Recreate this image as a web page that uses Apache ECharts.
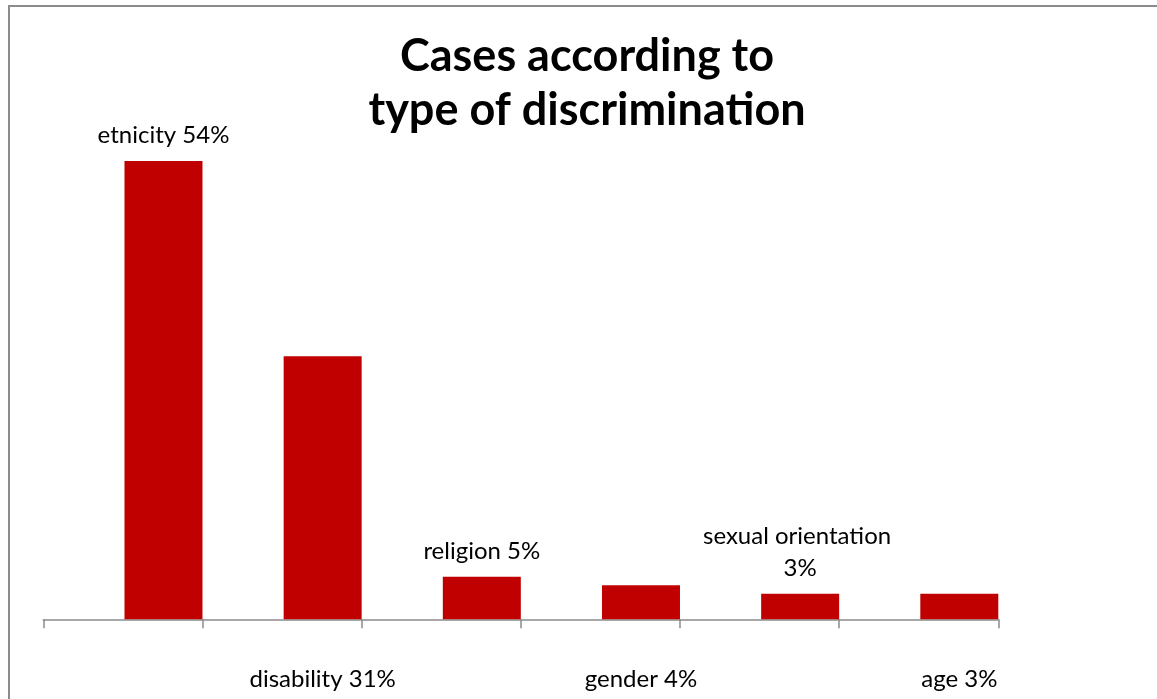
<!DOCTYPE html>
<html>
<head>
<meta charset="utf-8">
<script src="https://cdn.jsdelivr.net/npm/echarts@6/dist/echarts.min.js"></script>
<style>
  html, body { margin: 0; padding: 0; background: #ffffff; overflow: hidden; }
  #chart { position: absolute; left: 0; top: 0; width: 1157px; height: 699px; }
  #frame { position: absolute; left: 8px; top: 5px; width: 1400px; height: 900px;
           border: 2px solid #8c8c8c; pointer-events: none; box-sizing: border-box; }
</style>
</head>
<body>
<div id="chart"></div>
<div id="frame"></div>
<script>
const titleText = 'Cases according to\ntype of discrimination';
const categories = ['etnicity', 'disability', 'religion', 'gender', 'sexual orientation', 'age'];
const shares = [54, 31, 5, 4, 3, 3];
const yMax = 60;

const FONT = 'Lato, "Open Sans", "Noto Sans", sans-serif';
const chart = echarts.init(document.getElementById('chart'), null, { renderer: 'canvas' });

const labelled = shares.map((v, i) => ({
  value: v,
  label: i % 2 === 0
    ? { position: 'top', distance: 10 }
    : { position: 'bottom', distance: 44 }
}));

chart.setOption({
  backgroundColor: 'transparent',
  animation: false,
  title: {
    text: titleText,
    left: 587,
    top: 29,
    padding: 0,
    textAlign: 'center',
    textStyle: { fontFamily: FONT, fontWeight: 'bold', fontSize: 45, lineHeight: 54, color: '#000000' }
  },
  grid: { left: 43.3, right: 158.7, top: 110, bottom: 79.7, containLabel: false },
  xAxis: {
    type: 'category',
    data: categories,
    boundaryGap: true,
    axisLine: { show: true, lineStyle: { color: '#8c8c8c', width: 1.5 } },
    axisTick: { show: true, length: 9, lineStyle: { color: '#8c8c8c', width: 1.5 } },
    axisLabel: { show: false },
    splitLine: { show: false }
  },
  yAxis: {
    type: 'value',
    min: 0,
    max: yMax,
    show: false,
    splitLine: { show: false }
  },
  series: [
    {
      name: 'spacer',
      type: 'bar',
      data: categories.map(() => null),
      barWidth: 78,
      barGap: '4.1%',
      silent: true
    },
    {
      name: 'cases',
      type: 'bar',
      data: labelled,
      barWidth: 78,
      barGap: '4.1%',
      itemStyle: { color: '#C00000' },
      label: {
        show: true,
        fontFamily: FONT,
        fontSize: 24,
        lineHeight: 32,
        color: '#000000',
        width: 212,
        overflow: 'break',
        align: 'center',
        formatter: p => p.name + ' ' + p.value + '%'
      }
    }
  ]
});
</script>
</body>
</html>
